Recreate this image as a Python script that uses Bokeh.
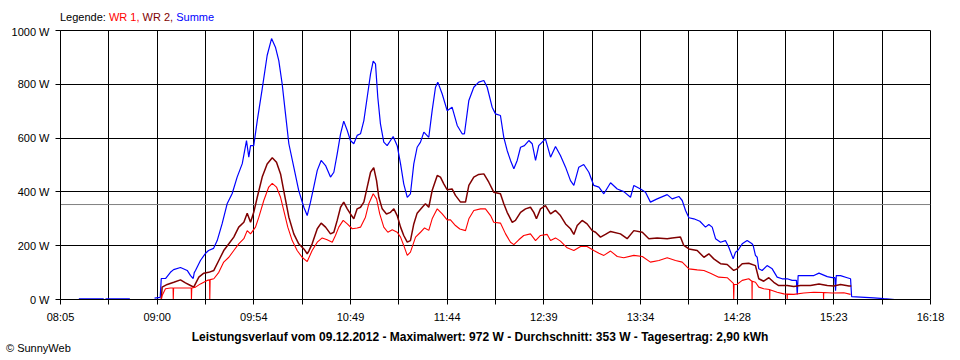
from bokeh.plotting import figure
from bokeh.layouts import column
from bokeh.models import (Range1d, FixedTicker, PrintfTickFormatter,
                          CustomJSTickFormatter, Span, Div)
from bokeh.embed import file_html
from bokeh.resources import INLINE

nan = float("nan")

# ---------------- data ----------------
# time axis in minutes after midnight
x_start, x_end = 485, 978          # 08:05 .. 16:18
x_tick_labels = ["08:05", "09:00", "09:54", "10:49", "11:44",
                 "12:39", "13:34", "14:28", "15:23", "16:18"]
y_tick_values = [0, 200, 400, 600, 800, 1000]

date_str = "09.12.2012"
max_w = 972
avg_w = 353
yield_kwh = "2,90"

series_names = ["WR 1", "WR 2", "Summe"]
series_colors = ["#FF0000", "#800000", "#0000FF"]

# Summe (blue)
sum_t = [495.4, 509.5, nan, 510.5, 524.3, nan,
         538.3, 541.5, 542.1, 544.5, 547.3, 549.1, 553.0, 556.8, 558.7, 560.2,
         560.8, 561.5, 564.3, 567.2, 568.9, 571.7, 573.8, 576.6, 579.5, 582.3,
         585.1, 588.0, 590.4, 591.7, 592.7, 594.5, 596.5, 599.3, 602.1, 604.6,
         606.8, 608.7, 610.6, 612.5, 614.4, 617.2, 620.0, 622.9, 624.8, 626.6,
         628.5, 630.5, 632.7, 635.2, 638.0, 639.9, 641.8, 643.7, 645.5, 647.5,
         649.3, 651.2, 653.1, 655.0, 656.9, 658.8, 660.7, 662.2, 663.5, 664.8,
         666.3, 668.2, 670.1, 672.0, 673.5, 675.8, 677.7, 679.5, 681.5, 683.3,
         685.2, 687.1, 689.0, 690.9, 693.7, 695.6, 697.5, 698.8, 701.3, 704.1,
         706.9, 709.8, 712.6, 713.9, 716.4, 719.2, 722.0, 724.9, 726.8, 729.6,
         731.5, 734.3, 736.2, 738.1, 740.0, 741.9, 743.8, 745.7, 747.9, 750.4,
         752.3, 754.2, 756.0, 759.8, 762.7, 765.5, 768.3, 771.2, 774.0, 775.9,
         778.7, 781.5, 784.4, 787.2, 790.1, 792.9, 796.7, 800.5, 804.2, 808.0,
         809.9, 813.7, 816.5, 819.3, 823.1, 828.8, 831.6, 835.4, 837.3, 839.2,
         841.1, 843.9, 847.3, 850.5, 852.4, 854.3, 856.2, 859.0, 861.8, 863.7,
         866.2, 867.5, 868.8, 871.3, 874.1, 876.9, 877.5, 878.8, 879.8, 880.7,
         882.6, 885.4, 888.3, 891.1, 893.9, 896.8, 899.6, 902.0, 902.5, 903.0,
         904.3, 908.1, 911.9, 914.8, 919.5, 922.3, 923.8, 924.2, 924.6, 927.0,
         930.8, 932.7, 933.3, 938.3, 945.9, 951.5, 957.8]
sum_w = [2, 2, nan, 2, 2, nan,
         5, 8, 78, 78, 101, 111, 119, 108, 89, 78,
         100, 108, 145, 172, 182, 190, 219, 282, 357, 394,
         455, 505, 591, 529, 572, 572, 665, 783, 907, 970,
         938, 888, 802, 690, 579, 492, 405, 343, 312, 360,
         418, 480, 517, 498, 455, 473, 541, 616, 663, 628,
         591, 579, 610, 616, 665, 752, 839, 886, 876, 752,
         653, 585, 572, 591, 606, 572, 504, 430, 380, 393,
         504, 566, 585, 622, 603, 702, 789, 808, 764, 702,
         715, 647, 616, 616, 740, 789, 808, 814, 789, 715,
         690, 684, 603, 554, 517, 486, 517, 566, 572, 591,
         579, 517, 572, 597, 529, 569, 535, 492, 442, 424,
         492, 502, 473, 424, 418, 393, 434, 411, 401, 380,
         424, 411, 399, 362, 374, 390, 374, 383, 368, 331,
         304, 300, 291, 269, 279, 269, 226, 213, 219, 194,
         151, 176, 182, 207, 219, 207, 201, 164, 157, 114,
         108, 126, 114, 83, 77, 77, 71, 71, 19, 89,
         89, 89, 89, 98, 85, 81, 81, 33, 89, 89,
         81, 77, 11, 9, 6, 3, 0]

# WR 2 (dark red)
wr2_t = [542.1, 542.6, 545.5, 549.2, 553.0, 555.8, 558.7, 560.5, 563.4, 566.2,
         569.0, 571.9, 574.7, 577.5, 580.4, 583.2, 586.0, 588.9, 590.8, 592.7,
         594.5, 596.5, 599.3, 602.1, 605.0, 607.4, 609.7, 611.5, 614.4, 617.2,
         620.0, 622.9, 624.8, 625.7, 627.6, 630.5, 632.7, 635.2, 638.0, 639.9,
         641.8, 643.7, 645.5, 647.5, 649.3, 651.2, 653.1, 655.0, 656.9, 658.8,
         660.7, 662.5, 664.1, 665.4, 667.3, 669.7, 672.0, 673.9, 675.8, 677.7,
         679.5, 681.5, 683.3, 685.2, 687.1, 690.0, 691.8, 693.7, 695.6, 698.5,
         700.3, 702.2, 704.1, 706.9, 708.8, 711.7, 714.5, 716.4, 719.2, 722.0,
         724.9, 727.7, 730.5, 734.3, 736.2, 738.1, 741.0, 742.8, 745.7, 748.5,
         751.3, 753.2, 754.7, 757.0, 759.8, 762.7, 765.5, 768.3, 771.2, 774.0,
         775.9, 777.8, 780.6, 783.4, 786.3, 788.2, 791.0, 793.8, 796.7, 802.3,
         806.1, 809.9, 814.7, 818.4, 823.1, 828.8, 831.6, 836.3, 838.2, 841.1,
         845.8, 849.6, 852.4, 855.2, 859.0, 862.8, 866.5, 868.4, 871.3, 875.0,
         878.8, 880.7, 883.5, 886.4, 889.2, 892.0, 896.8, 900.5, 904.3, 910.0,
         914.8, 919.5, 923.2, 927.0, 931.8, 933.1]
wr2_w = [0, 46, 56, 64, 73, 62, 52, 46, 83, 98,
         101, 108, 145, 182, 207, 232, 269, 287, 321, 287,
         324, 380, 455, 504, 527, 510, 467, 405, 306, 244,
         207, 188, 170, 180, 207, 263, 284, 269, 244, 250,
         294, 343, 362, 337, 318, 300, 337, 343, 362, 418,
         473, 490, 442, 380, 337, 318, 324, 337, 312, 269,
         238, 213, 219, 281, 321, 343, 356, 343, 405, 461,
         455, 430, 408, 411, 387, 362, 362, 424, 455, 465,
         467, 436, 399, 393, 356, 324, 287, 294, 324, 337,
         343, 324, 300, 337, 349, 318, 331, 312, 281, 263,
         242, 275, 294, 281, 256, 250, 232, 242, 253, 244,
         226, 256, 250, 226, 229, 226, 229, 232, 201, 188,
         182, 157, 170, 151, 133, 130, 108, 114, 133, 135,
         126, 77, 68, 81, 64, 52, 52, 48, 52, 52,
         58, 52, 50, 56, 50, 50]

# WR 1 (red)
wr1_t = [542.1, 542.6, 544.5, 547.3, 548.8, 548.9, 549.1, 553.0, 559.1, 559.2,
         559.4, 561.5, 564.3, 568.1, 569.5, 569.6, 569.8, 571.9, 574.7, 577.5,
         580.4, 583.2, 586.0, 588.9, 590.8, 592.7, 595.5, 597.4, 600.2, 603.0,
         605.0, 607.4, 609.7, 611.5, 613.8, 616.3, 619.1, 621.9, 624.8, 627.6,
         630.5, 633.3, 636.1, 639.0, 640.8, 642.7, 645.2, 647.5, 650.3, 653.1,
         655.0, 657.8, 659.7, 662.2, 664.1, 665.9, 668.2, 670.5, 673.0, 675.8,
         677.7, 679.5, 681.5, 683.3, 686.2, 689.0, 691.3, 693.7, 695.6, 698.5,
         701.3, 704.1, 706.0, 708.8, 711.3, 714.5, 716.4, 719.2, 723.0, 725.8,
         728.7, 730.5, 734.3, 737.2, 740.0, 741.9, 744.7, 747.5, 751.3, 754.2,
         757.0, 760.8, 762.7, 765.5, 768.3, 772.1, 775.9, 779.7, 783.4, 787.2,
         790.1, 792.9, 796.7, 800.5, 804.2, 809.9, 814.7, 819.3, 824.1, 828.8,
         833.5, 837.3, 841.1, 845.8, 849.6, 853.3, 858.0, 862.8, 866.3, 866.5,
         866.7, 868.4, 871.3, 875.0, 876.8, 876.9, 877.0, 878.8, 880.7, 883.5,
         886.8, 886.9, 887.0, 891.1, 894.9, 896.7, 896.8, 896.9, 900.5, 906.2,
         911.9, 917.3, 917.4, 917.5, 922.3, 928.9, 932.7]
wr1_w = [0, 15, 40, 43, 43, 0, 43, 43, 43, 0,
         43, 46, 58, 71, 73, 0, 74, 77, 101, 139,
         157, 182, 207, 226, 256, 244, 269, 306, 368, 418,
         432, 418, 380, 331, 269, 219, 182, 157, 141, 182,
         213, 229, 222, 213, 238, 269, 294, 281, 263, 266,
         269, 306, 356, 393, 374, 318, 269, 250, 259, 250,
         232, 201, 164, 176, 232, 250, 266, 257, 300, 337,
         318, 296, 296, 275, 262, 256, 300, 331, 337, 337,
         312, 287, 284, 244, 213, 204, 222, 238, 244, 219,
         238, 242, 219, 229, 217, 192, 182, 197, 197, 182,
         172, 164, 180, 160, 155, 164, 160, 139, 145, 155,
         145, 139, 114, 110, 108, 98, 83, 81, 60, 0,
         56, 56, 71, 77, 68, 0, 68, 64, 46, 40,
         37, 0, 36, 27, 21, 20, 0, 20, 19, 24,
         27, 26, 0, 26, 24, 25, 19]

assert len(sum_t) == len(sum_w)
assert len(wr2_t) == len(wr2_w)
assert len(wr1_t) == len(wr1_w)

# ---------------- figure ----------------
FONT = "Liberation Sans"
W = 960

p = figure(width=W, height=302, output_backend="svg", toolbar_location=None,
           title=None,
           x_range=Range1d(x_start, x_end), y_range=Range1d(0, 1000),
           min_border_left=60, min_border_right=30,
           min_border_top=5, min_border_bottom=28, margin=0)
p.background_fill_color = "white"
p.border_fill_color = "white"
p.outline_line_color = "black"
p.outline_line_width = 1

span = x_end - x_start
major = [x_start + span * k / 9 for k in range(10)]
minor = [x_start + span * (2 * k + 1) / 18 for k in range(9)]
xticker = FixedTicker(ticks=major, minor_ticks=minor)
p.xaxis.ticker = xticker
p.xgrid.ticker = xticker
p.xaxis.formatter = CustomJSTickFormatter(
    args=dict(vals=major, labels=x_tick_labels),
    code="""
    let best = 0;
    for (let i = 0; i < vals.length; i++) {
        if (Math.abs(vals[i] - tick) < Math.abs(vals[best] - tick)) best = i;
    }
    return labels[best];
    """)

yticker = FixedTicker(ticks=y_tick_values, minor_ticks=[])
p.yaxis.ticker = yticker
p.ygrid.ticker = yticker
p.yaxis.formatter = PrintfTickFormatter(format="%d W")

for ax in (p.xaxis[0], p.yaxis[0]):
    ax.axis_line_color = "black"
    ax.major_tick_line_color = "black"
    ax.minor_tick_line_color = "black"
    ax.major_tick_out = 5
    ax.major_tick_in = 0
    ax.minor_tick_out = 5
    ax.minor_tick_in = 0
    ax.major_label_text_font = FONT
    ax.major_label_text_font_size = "11px"
    ax.major_label_text_color = "black"
    ax.major_label_standoff = 6

p.xgrid.grid_line_color = "black"
p.xgrid.minor_grid_line_color = "black"
p.ygrid.grid_line_color = "black"
p.xgrid.grid_line_alpha = 1
p.ygrid.grid_line_alpha = 1

p.add_layout(Span(location=avg_w, dimension="width", line_color="#808080",
                  line_width=1, level="underlay"))

p.line(sum_t, sum_w, line_color=series_colors[2], line_width=1.2)
p.line(wr2_t, wr2_w, line_color=series_colors[1], line_width=1.5)
p.line(wr1_t, wr1_w, line_color=series_colors[0], line_width=1.1)

# ---------------- texts above and below ----------------
legend_parts = " ".join(
    f'<span style="color:{c}">{n}{"," if i < 2 else ""}</span>'
    for i, (n, c) in enumerate(zip(series_names, series_colors)))
legend_html = (
    f'<div style="padding:12px 0 0 60px; font-family:\'{FONT}\'; '
    f'font-size:11px; line-height:11px; white-space:nowrap; color:black">'
    f'Legende: {legend_parts}</div>')
top = Div(text=legend_html, width=W, height=25, margin=0)

bottom_text = (f"Leistungsverlauf vom {date_str} - Maximalwert: {max_w} W - "
               f"Durchschnitt: {avg_w} W - Tagesertrag: {yield_kwh} kWh")
bottom_html = (
    f'<div style="width:{W}px; font-family:\'{FONT}\'; color:black">'
    f'<div style="padding-top:4px; text-align:center; font-weight:bold; '
    f'font-size:12px; line-height:12px; white-space:nowrap">{bottom_text}</div>'
    f'<div style="padding-left:6px; font-size:11px; line-height:11px; '
    f'white-space:nowrap">\u00a9 SunnyWeb</div></div>')
bottom = Div(text=bottom_html, width=W, height=33, margin=0)

layout = column(top, p, bottom, spacing=0)

open("out.html", "w").write(file_html(layout, INLINE))
